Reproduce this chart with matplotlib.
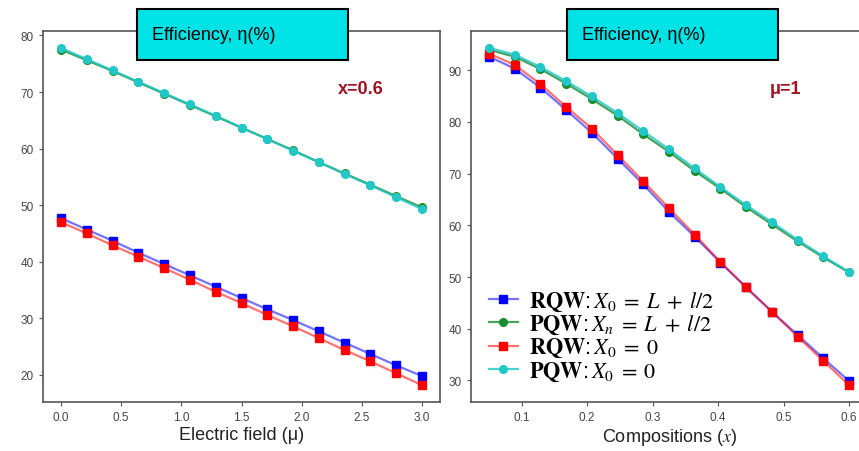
import numpy as np
import matplotlib
matplotlib.use('Agg')
from matplotlib import pyplot as plt
from matplotlib.patches import Rectangle

plt.rcParams['font.family'] = ['Liberation Sans', 'DejaVu Sans']
plt.rcParams['mathtext.fontset'] = 'stix'

# left panel: efficiency vs electric field (x = 0.6)
field = np.linspace(0.0, 3.0, 15)
rqw_l_field = [47.7, 45.7, 43.7, 41.6, 39.6, 37.6, 35.6, 33.6, 31.6, 29.7, 27.7, 25.7, 23.7, 21.7, 19.8]
pqw_l_field = [77.5, 75.6, 73.7, 71.7, 69.7, 67.7, 65.7, 63.7, 61.7, 59.7, 57.6, 55.6, 53.6, 51.6, 49.6]
rqw_0_field = [47.0, 45.0, 42.9, 40.9, 38.9, 36.8, 34.7, 32.7, 30.6, 28.6, 26.5, 24.4, 22.4, 20.3, 18.2]
pqw_0_field = [77.8, 75.8, 73.8, 71.8, 69.8, 67.8, 65.8, 63.7, 61.7, 59.6, 57.6, 55.5, 53.5, 51.4, 49.3]

# right panel: efficiency vs composition (mu = 1)
comp = np.linspace(0.05, 0.6, 15)
rqw_l_comp = [92.6, 90.3, 86.6, 82.3, 77.9, 72.9, 67.9, 62.6, 57.8, 52.8, 48.0, 43.3, 38.8, 34.3, 29.9]
pqw_l_comp = [93.9, 92.6, 90.2, 87.4, 84.4, 81.2, 77.6, 74.2, 70.5, 67.1, 63.5, 60.2, 56.9, 53.8, 50.9]
rqw_0_comp = [93.2, 91.0, 87.3, 82.9, 78.7, 73.6, 68.5, 63.3, 58.2, 52.9, 48.0, 43.3, 38.5, 33.8, 29.1]
pqw_0_comp = [94.3, 93.0, 90.6, 87.9, 84.9, 81.7, 78.2, 74.7, 71.0, 67.4, 63.9, 60.6, 57.2, 54.0, 51.0]

labels = [r'$\mathbf{RQW}$:$\,X_0\;=\;L\;+\;l/2$',
          r'$\mathbf{PQW}$:$\,X_n\;=\;L\;+\;l/2$',
          r'$\mathbf{RQW}$:$\,X_0\;=\;0$',
          r'$\mathbf{PQW}$:$\,X_0\;=\;0$']
styles = [((0, 0, 1, 0.55), 'blue', 's'),
          ((0.1, 0.55, 0.2, 0.8), '#1a8c2e', 'o'),
          ((1, 0, 0, 0.55), 'red', 's'),
          ((0.1, 0.78, 0.78, 0.8), '#22c8c8', 'o')]

fig = plt.figure(figsize=(8.59, 4.52), dpi=100)
ax1 = fig.add_axes([43 / 859, 1 - 403 / 452, 397 / 859, 371 / 452])
ax2 = fig.add_axes([471 / 859, 1 - 403 / 452, 396 / 859, 371 / 452])

for ax, x, series in ((ax1, field, [rqw_l_field, pqw_l_field, rqw_0_field, pqw_0_field]),
                      (ax2, comp, [rqw_l_comp, pqw_l_comp, rqw_0_comp, pqw_0_comp])):
    for y, (lc, mc, mk), lab in zip(series, styles, labels):
        ax.plot(x, y, color=lc, lw=1.6, marker=mk, ms=5.5,
                markerfacecolor=mc, markeredgecolor=mc, label=lab)
    for sp in ax.spines.values():
        sp.set_color('#555555')
        sp.set_linewidth(1.2)
    ax.tick_params(labelsize=8.5, labelcolor='#444444', color='#555555', length=3)

ax1.set_xticks([0.0, 0.5, 1.0, 1.5, 2.0, 2.5, 3.0])
ax1.set_yticks([20, 30, 40, 50, 60, 70, 80])
ax2.set_xticks([0.1, 0.2, 0.3, 0.4, 0.5, 0.6])
ax2.set_yticks([30, 40, 50, 60, 70, 80, 90])

ax1.set_xlabel('Electric field (\u03bc)', fontsize=13, color='#222222', labelpad=2)
ax2.set_xlabel('Compositions ($x$)', fontsize=13, color='#222222', labelpad=2)

ax1.text(0.80, 0.845, 'x=0.6', transform=ax1.transAxes, fontsize=13,
         fontweight='bold', color='#a01020', ha='center', va='center')
ax2.text(0.795, 0.845, '\u03bc=1', transform=ax2.transAxes, fontsize=13,
         fontweight='bold', color='#a01020', ha='center', va='center')

ax2.legend(loc='upper left', bbox_to_anchor=(0.045, 0.303), frameon=False,
           fontsize=16, labelspacing=0.0, handlelength=1.3, handletextpad=0.5,
           borderpad=0, borderaxespad=0)

# cyan title boxes
for x0 in (137, 567):
    fig.patches.append(Rectangle((x0 / 859, 1 - 61 / 452), 211 / 859, 51 / 452,
                                 transform=fig.transFigure, facecolor='#00e3e6',
                                 edgecolor='black', lw=1.5, zorder=5))
    fig.text((x0 + 15) / 859, 1 - 35 / 452, 'Efficiency, \u03b7(%)', fontsize=13,
             color='black', ha='left', va='center', zorder=6)

fig.savefig('out.png', dpi=100)
